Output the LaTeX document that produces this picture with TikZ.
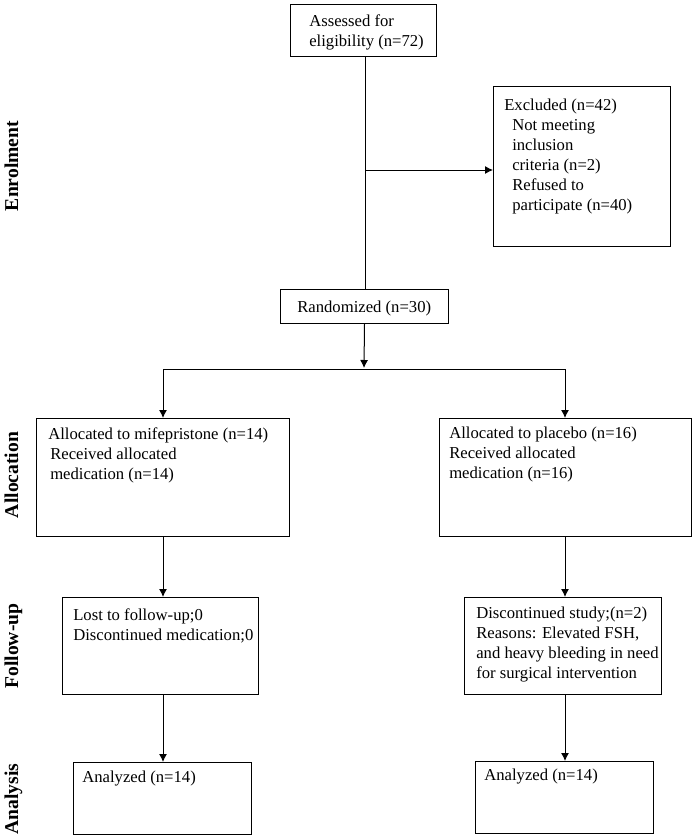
\documentclass[tikz,border=0pt]{standalone}
\usepackage{fontspec}
\setmainfont{Liberation Serif}
\usetikzlibrary{arrows.meta}
\tikzset{
  box/.style={draw=black, line width=0.75pt, rectangle, inner sep=0pt, anchor=north west},
  txt/.style={anchor=north west, inner sep=0pt, align=left, font=\fontsize{12.5}{15}\selectfont},
  side/.style={rotate=90, anchor=base, inner sep=0pt, font=\fontsize{14.7}{16}\selectfont\bfseries},
  conn/.style={draw=black, line width=0.75pt},
  arr/.style={conn, -{Latex[length=6pt,width=6pt]}}
}
\begin{document}
\begin{tikzpicture}[x=0.75pt,y=-0.75pt]
\useasboundingbox (0,0) rectangle (696,839);
% boxes
\node[box, minimum width=109.5pt, minimum height=39pt] (assess) at (290,4) {};
\node[box, minimum width=132.75pt, minimum height=120pt] (excl) at (493,86) {};
\node[box, minimum width=126pt, minimum height=25.5pt] (rand) at (280,289) {};
\node[box, minimum width=189.75pt, minimum height=88.5pt] (allocL) at (36,418) {};
\node[box, minimum width=189pt, minimum height=88.5pt] (allocR) at (439,418) {};
\node[box, minimum width=147pt, minimum height=72.75pt] (fuL) at (62,597) {};
\node[box, minimum width=147.75pt, minimum height=72.75pt] (fuR) at (464,597) {};
\node[box, minimum width=133.5pt, minimum height=54pt] (anL) at (73,762) {};
\node[box, minimum width=133.5pt, minimum height=54pt] (anR) at (475,761) {};
% texts
\node[txt] (tassess) at (309,12) {\strut Assessed for\\eligibility (n=72)};
\node[txt] (texcl) at (504,96) {\strut Excluded (n=42)\\
\hspace*{6pt}Not meeting\\
\hspace*{6pt}inclusion\\
\hspace*{6pt}criteria (n=2)\\
\hspace*{6pt}Refused to\\
\hspace*{6pt}participate (n=40)};
\node[txt] (trand) at (297,298) {\strut Randomized (n=30)};
\node[txt] (tallocL) at (48,425) {\strut Allocated to mifepristone (n=14)\\
\hspace*{1.5pt}Received allocated\\
\hspace*{1.5pt}medication (n=14)};
\node[txt] (tallocR) at (449,424) {\strut Allocated to placebo (n=16)\\
Received allocated\\
medication (n=16)};
\node[txt] (tfuL) at (73,606) {\strut Lost to follow-up;0\\Discontinued medication;0};
\node[txt] (tfuR) at (476,604) {\strut Discontinued study;(n=2)\\Reasons: Elevated FSH,\\and heavy bleeding in need\\for surgical intervention};
\node[txt] (tanL) at (82,768) {\strut Analyzed (n=14)};
\node[txt] (tanR) at (484,766) {\strut Analyzed (n=14)};
% side labels
\node[side] (sEnrol) at (18,166) {Enrolment};
\node[side] (sAlloc) at (18,475) {Allocation};
\node[side] (sFollow) at (18,646) {Follow-up};
\node[side] (sAnal) at (18,799) {Analysis};
% connectors
\coordinate (vtop) at (365,56);
\coordinate (branch) at (365,170);
\coordinate (vbot) at (365,289);
\draw[conn] (vtop) -- (vbot);
\draw[arr] (branch) -- (branch -| excl.west);
\coordinate (split) at (364,368);
\coordinate (splitL) at (163,369);
\coordinate (splitR) at (565,369);
\draw[arr] (rand.south) -- (split);
\draw[conn] (splitL) -- (splitR);
\draw[arr] (splitL) -- (splitL |- allocL.north);
\draw[arr] (splitR) -- (splitR |- allocR.north);
\coordinate (aL) at (163,536);
\coordinate (aR) at (565,536);
\draw[arr] (aL) -- (aL |- fuL.north);
\draw[arr] (aR) -- (aR |- fuR.north);
\coordinate (fL) at (163,694);
\coordinate (fR) at (565,694);
\draw[arr] (fL) -- (fL |- anL.north);
\draw[arr] (fR) -- (fR |- anR.north);
\end{tikzpicture}
\end{document}
